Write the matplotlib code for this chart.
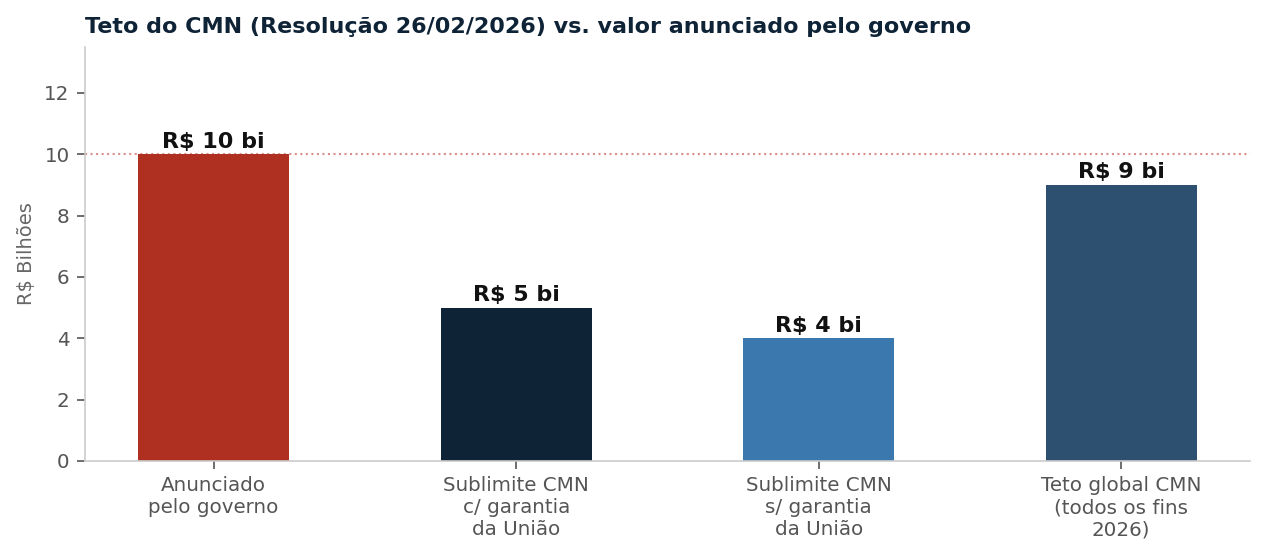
import matplotlib
matplotlib.use("Agg")
import matplotlib.pyplot as plt
import numpy as np

categories = ["Anunciado\npelo governo",
              "Sublimite CMN\nc/ garantia\nda União",
              "Sublimite CMN\ns/ garantia\nda União",
              "Teto global CMN\n(todos os fins\n2026)"]
values = [10, 5, 4, 9]
labels = ["R$ 10 bi", "R$ 5 bi", "R$ 4 bi", "R$ 9 bi"]
colors = ["#AF3020", "#0F2337", "#3B78AD", "#2D4F70"]
announced = 10

fig, ax = plt.subplots(figsize=(12.65, 5.56), dpi=100)
fig.subplots_adjust(left=0.0672, right=0.988, top=0.9155, bottom=0.1709)

x = np.arange(len(categories))
bars = ax.bar(x, values, width=0.5, color=colors, zorder=2)
ax.axhline(announced, ls=":", color="#D9908A", lw=1.5, zorder=1)

for b, lab in zip(bars, labels):
    ax.annotate(lab, (b.get_x() + b.get_width() / 2, b.get_height()),
                xytext=(0, 2), textcoords="offset points",
                ha="center", va="bottom", fontsize=16, fontweight="bold",
                color="#111111")

ax.set_ylim(0, 13.5)
ax.set_yticks([0, 2, 4, 6, 8, 10, 12])
ax.set_xticks(x)
ax.set_xticklabels(categories, fontsize=14.3, color="#555555", linespacing=1.2)
ax.tick_params(axis="y", labelsize=14.3, labelcolor="#555555", color="#555555",
               length=6, width=1.2, pad=5)
ax.tick_params(axis="x", color="#555555", length=6, width=1.2, pad=5)
ax.set_ylabel("R$ Bilhões", fontsize=14, color="#666666", labelpad=6)

for s in ["top", "right"]:
    ax.spines[s].set_visible(False)
for s in ["left", "bottom"]:
    ax.spines[s].set_color("#CCCCCC")
    ax.spines[s].set_linewidth(1.2)

ax.set_title("Teto do CMN (Resolução 26/02/2026) vs. valor anunciado pelo governo",
             loc="left", fontsize=16, fontweight="bold", color="#0F2337", pad=10)

fig.savefig("out.png", dpi=100)
